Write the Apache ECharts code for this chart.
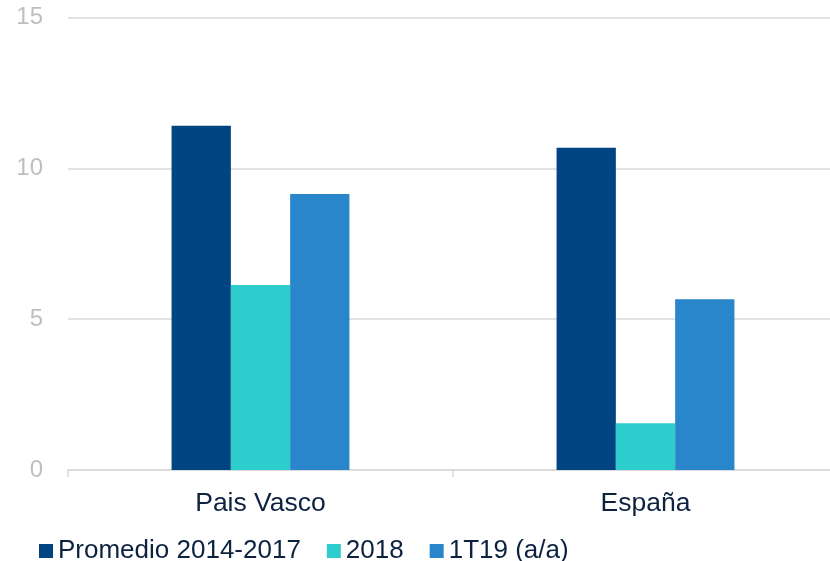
<!DOCTYPE html>
<html>
<head>
<meta charset="utf-8">
<script src="https://cdn.jsdelivr.net/npm/echarts@6/dist/echarts.min.js"></script>
<style>html,body{margin:0;padding:0;background:#fff}#c{width:830px;height:561px}</style>
</head>
<body>
<div id="c"></div>
<script>
const categories = ['Pais Vasco', 'España'];
const seriesNames = ['Promedio 2014-2017', '2018', '1T19 (a/a)'];
const promedio = [11.41, 10.68];
const y2018 = [6.13, 1.55];
const t1t19 = [9.15, 5.66];
const colors = ['#004481', '#2DCCCD', '#2A86CA'];
const values = [promedio, y2018, t1t19];

const chart = echarts.init(document.getElementById('c'), null, {renderer: 'canvas'});
const font = 'Liberation Sans, Arial, sans-serif';
chart.setOption({
  animation: false,
  textStyle: {fontFamily: font},
  grid: {left: 68, width: 770, top: 17.5, bottom: 91, containLabel: false, outerBoundsMode: 'none'},
  legend: {
    left: 34, top: 533,
    itemWidth: 14, itemHeight: 14, itemGap: 26,
    icon: 'rect',
    textStyle: {fontSize: 26, color: '#0D2240', fontFamily: font, padding: [0, 0, 0, 0]},
    data: seriesNames
  },
  xAxis: {
    type: 'category',
    data: categories,
    axisLine: {lineStyle: {color: '#D9D9D9', width: 1.5}},
    axisTick: {show: true, length: 7, lineStyle: {color: '#D9D9D9', width: 1.5}},
    axisLabel: {fontSize: 26.5, color: '#0D2240', margin: 20, fontFamily: font}
  },
  yAxis: {
    type: 'value', min: 0, max: 15, interval: 5,
    axisLine: {show: false}, axisTick: {show: false},
    splitLine: {lineStyle: {color: '#D9D9D9', width: 1.5}},
    axisLabel: {fontSize: 24, color: '#BFBFBF', margin: 25, fontFamily: font}
  },
  series: seriesNames.map((n, i) => ({
    name: n, type: 'bar', data: values[i],
    barGap: '0%', barCategoryGap: '53.8%',
    itemStyle: {color: colors[i]}
  }))
});
</script>
</body>
</html>
